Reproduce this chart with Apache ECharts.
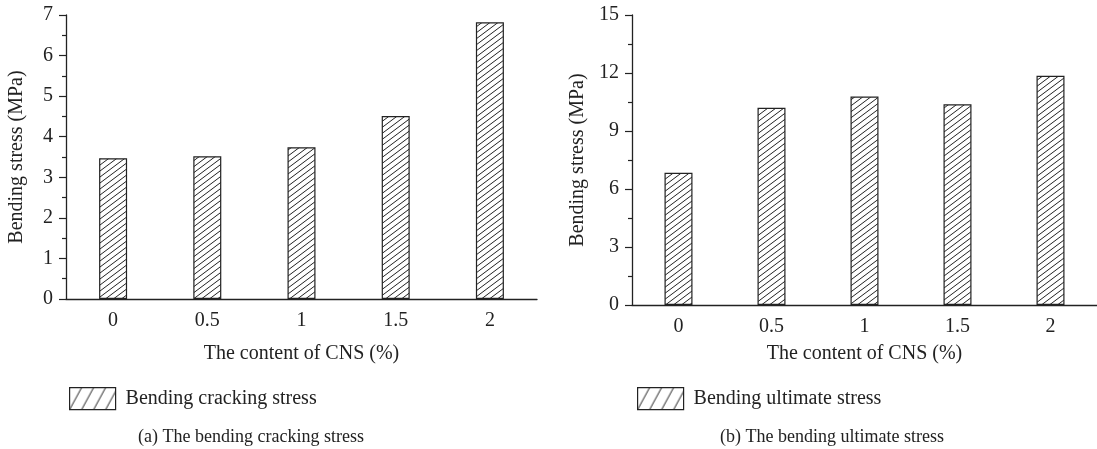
<!DOCTYPE html>
<html><head><meta charset="utf-8">
<script src="https://cdn.jsdelivr.net/npm/echarts@6/dist/echarts.min.js"></script>
<style>html,body{margin:0;padding:0;background:#fff}#c{width:1097px;height:449px}</style>
</head><body><div id="c"></div>
<script>
// Data
const categories = ['0', '0.5', '1', '1.5', '2'];
const crackingStress = [3.47, 3.52, 3.74, 4.51, 6.82];
const ultimateStress = [6.84, 10.2, 10.78, 10.38, 11.86];
const seriesNames = ['Bending cracking stress', 'Bending ultimate stress'];
const captions = ['(a) The bending cracking stress', '(b) The bending ultimate stress'];
const xTitle = 'The content of CNS (%)';
const yTitle = 'Bending stress (MPa)';

function hatch(w, h, lw) {
  const c = document.createElement('canvas');
  c.width = w; c.height = h;
  const g = c.getContext('2d');
  g.fillStyle = '#fff'; g.fillRect(0, 0, w, h);
  g.strokeStyle = '#222'; g.lineWidth = lw;
  g.beginPath();
  g.moveTo(-w, 2 * h); g.lineTo(2 * w, -h);
  g.moveTo(-2 * w, 2 * h); g.lineTo(w, -h);
  g.moveTo(0, 2 * h); g.lineTo(3 * w, -h);
  g.stroke();
  return c;
}
const barPattern = { image: hatch(8, 6, 1), repeat: 'repeat' };
const legPattern = { image: hatch(12, 22, 1), repeat: 'repeat' };

const font = '"Liberation Serif", "DejaVu Serif", serif';
const txt = '#222';

function yAxis(gi, max, interval, gap) {
  return {
    type: 'value', gridIndex: gi, min: 0, max: max, interval: interval,
    name: yTitle, nameLocation: 'middle', nameRotate: 90, nameGap: gap,
    nameTextStyle: { fontFamily: font, fontSize: 20, color: txt },
    axisLine: { show: true, lineStyle: { color: '#222', width: 1.3 } },
    axisTick: { show: true, length: 7, lineStyle: { color: '#222', width: 1.2 } },
    minorTick: { show: true, splitNumber: 2, length: 4, lineStyle: { color: '#222', width: 1.2 } },
    axisLabel: { fontFamily: font, fontSize: 20, color: txt, margin: 13 },
    splitLine: { show: false }
  };
}
function xAxis(gi, gap) {
  return {
    type: 'category', gridIndex: gi, data: categories,
    name: xTitle, nameLocation: 'middle', nameGap: gap,
    nameTextStyle: { fontFamily: font, fontSize: 20, color: txt },
    axisLine: { show: true, lineStyle: { color: '#222', width: 1.3 } },
    axisTick: { show: false },
    axisLabel: { fontFamily: font, fontSize: 20, color: txt, margin: 12 },
    splitLine: { show: false }
  };
}
function series(i, data) {
  return {
    name: seriesNames[i], type: 'bar', xAxisIndex: i, yAxisIndex: i, data: data,
    barWidth: 28,
    itemStyle: { color: barPattern, borderColor: '#222', borderWidth: 1.2 },
    emphasis: { disabled: true }
  };
}
function legend(i, left) {
  return {
    left: left, top: 382, itemWidth: 46, itemHeight: 22, selectedMode: false, icon: 'rect',
    data: [{ name: seriesNames[i], icon: 'rect', itemStyle: { color: legPattern, borderColor: '#222', borderWidth: 1.2 } }],
    textStyle: { fontFamily: font, fontSize: 20, color: txt, padding: [0, 0, 0, 5] }
  };
}

const chart = echarts.init(document.getElementById('c'), null, { renderer: 'canvas' });
chart.setOption({
  animation: false,
  backgroundColor: '#fff',
  grid: [
    { left: 66, top: 15, width: 471, height: 284 },
    { left: 632, top: 15, width: 467, height: 290 }
  ],
  xAxis: [xAxis(0, 45), xAxis(1, 39)],
  yAxis: [yAxis(0, 7, 1, 39), yAxis(1, 15, 3, 44)],
  legend: [legend(0, 64), legend(1, 632)],
  series: [series(0, crackingStress), series(1, ultimateStress)],
  graphic: [
    { type: 'text', x: 251, y: 437, style: { text: captions[0], font: '18px ' + font, fill: txt, textAlign: 'center', textVerticalAlign: 'middle' } },
    { type: 'text', x: 832, y: 437, style: { text: captions[1], font: '18px ' + font, fill: txt, textAlign: 'center', textVerticalAlign: 'middle' } }
  ]
});
</script>
</body></html>
